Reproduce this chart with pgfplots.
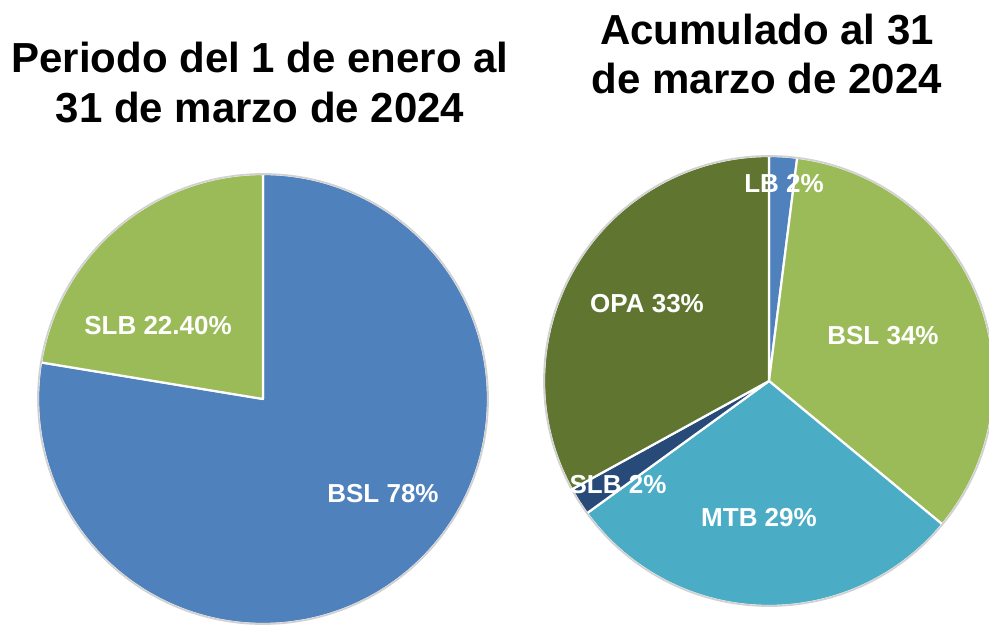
\documentclass[border=0pt]{standalone}
\usepackage{pgfplots}
\pgfplotsset{compat=1.18}
\usepackage{fontspec}
\setmainfont{Liberation Sans}
\definecolor{pblue}{HTML}{4F81BD}
\definecolor{pgreen}{HTML}{9BBB59}
\definecolor{pteal}{HTML}{4BACC6}
\definecolor{pnavy}{HTML}{284A78}
\definecolor{polive}{HTML}{5F7530}
\newcommand\pieR{112.5pt}
\newcommand\drawpie[3]{%
  \xdef\angacc{90}%
  \foreach \v/\c in {#3}{%
    \pgfmathsetmacro\aend{\angacc-3.6*\v}%
    \filldraw[fill=\c, draw=white, line width=1.1pt, line join=round] (axis cs:#1,#2) -- ++(\angacc:\pieR) arc[start angle=\angacc,end angle=\aend,radius=\pieR] -- cycle;%
    \xdef\angacc{\aend}%
  }%
  \draw[black!18, line width=0.9pt] (axis cs:#1,#2) circle[radius=\pieR];%
}
\begin{document}
\begin{tikzpicture}
\begin{axis}[x=0.5pt, y=0.5pt, xmin=0, xmax=989, ymin=0, ymax=626,
  hide axis, clip=true, anchor=south west, at={(0,0)}]
\pgfplotsextra{%
  \drawpie{263}{227}{77.6/pblue, 22.4/pgreen}%
  \drawpie{769}{245}{2/pblue, 34/pgreen, 29/pteal, 2/pnavy, 33/polive}%
}
\begin{scope}[every node/.style={font=\fontsize{21}{25}\selectfont\bfseries, anchor=base, inner sep=0pt}]
\node at (axis cs:260,553) {Periodo del 1 de enero al};
\node at (axis cs:260,503) {31 de marzo de 2024};
\node at (axis cs:767,581) {Acumulado al 31};
\node at (axis cs:767,532) {de marzo de 2024};
\end{scope}
\begin{scope}[every node/.style={font=\fontsize{13}{15}\selectfont\bfseries, text=white, anchor=base, inner sep=0pt}]
\node at (axis cs:158,291) {SLB 22.40\%};
\node at (axis cs:383,123) {BSL 78\%};
\node at (axis cs:784,433) {LB 2\%};
\node at (axis cs:883,281) {BSL 34\%};
\node at (axis cs:647,313) {OPA 33\%};
\node at (axis cs:618,133) {SLB 2\%};
\node at (axis cs:759,99) {MTB 29\%};
\end{scope}
\end{axis}
\pgfresetboundingbox
\useasboundingbox (current axis.south west) rectangle (current axis.north east);
\end{tikzpicture}
\end{document}
